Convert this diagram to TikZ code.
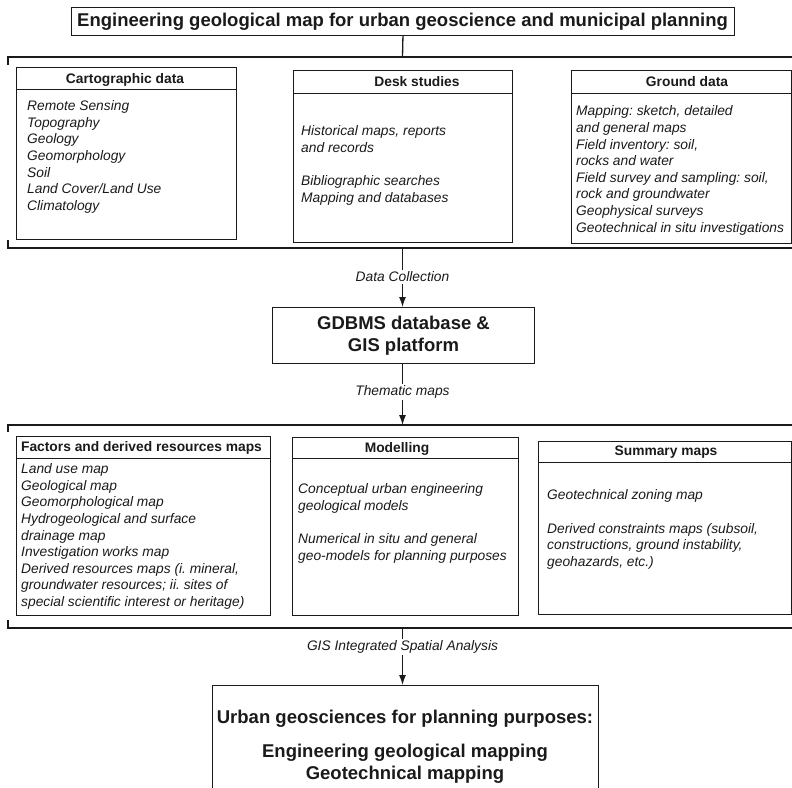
\documentclass[tikz,border=0pt]{standalone}
\usepackage{fontspec}
\setmainfont{Liberation Sans}
\usetikzlibrary{arrows.meta}
\frenchspacing
\definecolor{ink}{HTML}{1A1A1A}
\tikzset{
  box/.style={draw=ink, line width=0.9pt, rectangle, inner sep=0pt, anchor=north west},
  bracket/.style={draw=ink, line width=1.7pt},
  sepline/.style={draw=ink, line width=0.9pt},
  head/.style={inner sep=0pt, text=ink, font=\fontsize{13.8}{16.6}\selectfont\bfseries},
  items/.style={inner sep=0pt, text=ink, align=left, anchor=west, font=\fontsize{13.8}{16.6}\selectfont\itshape},
  big/.style={inner sep=0pt, text=ink, align=center, font=\fontsize{18.5}{22}\selectfont\bfseries},
  flowlabel/.style={fill=white, inner sep=1.5pt, text=ink, font=\fontsize{13.8}{16.6}\selectfont\itshape},
  arrowline/.style={draw=ink, line width=1.3pt, -{Latex[length=10pt,width=7pt]}},
  plainline/.style={draw=ink, line width=1.3pt}
}
\begin{document}
\begin{tikzpicture}[x=1pt,y=-1pt]
\useasboundingbox (0,0) rectangle (792,787);
\clip (0,0) rectangle (792,787);
% title
\node[box, minimum width=663pt, minimum height=28pt] (title) at (71,7) {};
\node[big] (titleT) at (402.5,21.5) {Engineering geological map for urban geoscience and municipal planning};
% top bracket
\coordinate (tb) at (402.5,57);
\coordinate (bb) at (402.5,248);
\draw[bracket] (8,65) -- (8,57) -- (792,57);
\draw[bracket] (8,240) -- (8,248) -- (792,248);
\draw[plainline] (title.south) -- (tb);
% cartographic
\node[box, minimum width=220pt, minimum height=172pt] (carto) at (16,67) {};
\draw[sepline] (carto.west |- 0,89) -- (carto.east |- 0,89);
\node[head] (cartoH) at (125,80) {Cartographic data};
\node[items] (cartoL) at (27,157) {Remote Sensing\\Topography\\Geology\\Geomorphology\\Soil\\Land Cover/Land Use\\Climatology};
% desk
\node[box, minimum width=219pt, minimum height=172pt] (desk) at (293,70) {};
\draw[sepline] (desk.west |- 0,93) -- (desk.east |- 0,93);
\node[head] (deskH) at (417,82) {Desk studies};
\node[items] (deskL) at (301,165.5) {Historical maps, reports\\and records\\[16.6pt]Bibliographic searches\\Mapping and databases};
% ground
\node[box, minimum width=220pt, minimum height=173pt] (ground) at (571,70) {};
\draw[sepline] (ground.west |- 0,93) -- (ground.east |- 0,93);
\node[head] (groundH) at (687,82) {Ground data};
\node[items] (groundL) at (576,170.5) {Mapping: sketch, detailed\\and general maps\\Field inventory: soil,\\rocks and water\\Field survey and sampling: soil,\\rock and groundwater\\Geophysical surveys\\Geotechnical in situ investigations};
% GDBMS
\node[box, minimum width=262pt, minimum height=56pt] (gdbms) at (272,307) {};
\node[big] (gdbmsT) at (403.5,336) {GDBMS database \&\\GIS platform};
\draw[arrowline] (bb) -- (gdbms.north -| bb);
\node[flowlabel] (dcl) at (402.5,277) {Data Collection};
% second bracket
\coordinate (tb2) at (402.5,425);
\coordinate (bb2) at (402.5,628);
\draw[bracket] (8,432) -- (8,425) -- (792,425);
\draw[bracket] (8,620) -- (8,628) -- (792,628);
\draw[arrowline] (gdbms.south -| tb2) -- (tb2);
\node[flowlabel] (tml) at (402.5,392) {Thematic maps};
% factors
\node[box, minimum width=254pt, minimum height=179pt] (factors) at (16,436) {};
\draw[sepline] (factors.west |- 0,458) -- (factors.east |- 0,458);
\node[head] (factorsH) at (141.5,448) {Factors and derived resources maps};
\node[items] (factorsL) at (21,536.5) {Land use map\\Geological map\\Geomorphological map\\Hydrogeological and surface\\drainage map\\Investigation works map\\Derived resources maps (i. mineral,\\groundwater resources; ii. sites of\\special scientific interest or heritage)};
% modelling
\node[box, minimum width=226pt, minimum height=178pt] (model) at (292,437) {};
\draw[sepline] (model.west |- 0,458) -- (model.east |- 0,458);
\node[head] (modelH) at (397,449) {Modelling};
\node[items] (modelL) at (298,523.5) {Conceptual urban engineering\\geological models\\[16.6pt]Numerical in situ and general\\geo-models for planning purposes};
% summary
\node[box, minimum width=253pt, minimum height=173pt] (summary) at (538,441) {};
\draw[sepline] (summary.west |- 0,462) -- (summary.east |- 0,462);
\node[head] (summaryH) at (666,452) {Summary maps};
\node[items] (summaryL) at (547,529.5) {Geotechnical zoning map\\[16.6pt]Derived constraints maps (subsoil,\\constructions, ground instability,\\geohazards, etc.)};
% final
\node[box, minimum width=386pt, minimum height=125pt] (final) at (212,685) {};
\draw[arrowline] (bb2) -- (final.north -| bb2);
\node[flowlabel] (gisl) at (402.5,647) {GIS Integrated Spatial Analysis};
\node[big] (finalT) at (405,719) {Urban geosciences for planning purposes:};
\node[big] (finalM) at (405,764) {Engineering geological mapping\\Geotechnical mapping};
\end{tikzpicture}
\end{document}
